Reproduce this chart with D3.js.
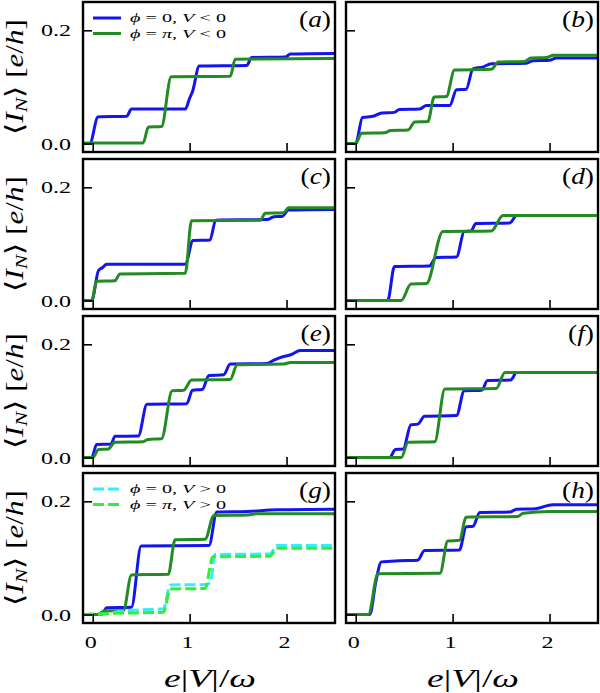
<!DOCTYPE html>
<html><head><meta charset="utf-8">
<script src="https://cdn.jsdelivr.net/npm/d3@7"></script>
<style>html,body{margin:0;padding:0;background:#fff;} svg{display:block;} text{white-space:pre;}</style>
</head><body>
<svg id="c" width="600" height="693"></svg>
<script>
// ---------- data (x = e|V|/ω, y = <I_N> [e/h]) ----------
const xTicks = [0, 1, 2];
const xTickLabels = ["0", "1", "2"];
const yTicks = [0.0, 0.2];
const yTickLabels = ["0.0", "0.2"];
const panelLabels = ["a", "b", "c", "d", "e", "f", "g", "h"];
const legendTop = ["ϕ = 0, V < 0", "ϕ = π, V < 0"];
const legendBottom = ["ϕ = 0, V > 0", "ϕ = π, V > 0"];

const A_blue = [[-0.1,0.0],[-0.03,0.0],[0.055,0.047],[0.35,0.048],[0.40,0.061],[0.955,0.061],[1.0,0.080],[1.03,0.092],[1.10,0.137],[1.59,0.138],[1.64,0.152],[1.99,0.153],[2.04,0.158],[2.5,0.159]];
const A_green = [[-0.1,0.001],[0.52,0.001],[0.575,0.029],[0.71,0.030],[0.81,0.118],[1.42,0.119],[1.47,0.149],[2.5,0.150]];
const B_blue = [[-0.1,0.0],[0.0,0.0],[0.07,0.046],[0.18,0.048],[0.27,0.054],[0.40,0.055],[0.45,0.060],[0.66,0.061],[0.73,0.067],[0.97,0.067],[1.04,0.095],[1.14,0.096],[1.21,0.132],[1.31,0.135],[1.40,0.141],[1.76,0.142],[1.83,0.146],[2.0,0.147],[2.07,0.151],[2.5,0.151]];
const B_green = [[-0.1,0.0],[0.0,0.0],[0.06,0.018],[0.30,0.019],[0.36,0.023],[0.54,0.024],[0.61,0.038],[0.745,0.039],[0.81,0.082],[0.935,0.083],[1.02,0.130],[1.40,0.131],[1.47,0.144],[1.74,0.145],[1.81,0.151],[1.97,0.152],[2.04,0.156],[2.5,0.156]];
const C_blue = [[-0.1,0.0],[-0.01,0.0],[0.06,0.053],[0.10,0.058],[0.145,0.064],[0.955,0.064],[1.035,0.106],[1.21,0.107],[1.27,0.142],[1.80,0.143],[1.87,0.148],[1.96,0.149],[2.02,0.160],[2.5,0.161]];
const C_green = [[-0.1,0.0],[-0.01,0.0],[0.04,0.034],[0.23,0.035],[0.28,0.047],[0.955,0.048],[1.02,0.141],[1.73,0.142],[1.78,0.154],[1.97,0.155],[2.02,0.164],[2.5,0.164]];
const D_blue = [[-0.1,0.0],[0.33,0.0],[0.40,0.060],[0.76,0.061],[0.83,0.076],[1.04,0.077],[1.12,0.122],[1.19,0.123],[1.24,0.136],[1.59,0.137],[1.66,0.150],[2.5,0.150]];
const D_green = [[-0.1,0.0],[0.47,0.0],[0.57,0.029],[0.73,0.030],[0.90,0.122],[1.40,0.123],[1.52,0.150],[2.5,0.150]];
const E_blue = [[-0.1,0.0],[-0.01,0.0],[0.04,0.023],[0.19,0.024],[0.23,0.0375],[0.47,0.038],[0.56,0.094],[0.97,0.095],[1.03,0.119],[1.13,0.120],[1.20,0.145],[1.35,0.146],[1.42,0.165],[1.80,0.166],[1.87,0.172],[1.94,0.177],[2.05,0.182],[2.14,0.189],[2.5,0.189]];
const E_green = [[-0.1,0.0],[0.0,0.0],[0.06,0.014],[0.16,0.015],[0.23,0.027],[0.52,0.028],[0.57,0.032],[0.71,0.033],[0.82,0.118],[0.94,0.119],[1.02,0.137],[1.42,0.138],[1.49,0.164],[1.97,0.165],[2.04,0.168],[2.5,0.168]];
const F_blue = [[-0.1,0.0],[0.35,0.0],[0.41,0.014],[0.49,0.015],[0.57,0.058],[0.64,0.059],[0.71,0.073],[1.04,0.074],[1.12,0.118],[1.30,0.119],[1.36,0.136],[1.60,0.137],[1.66,0.150],[2.5,0.150]];
const F_green = [[-0.1,0.0],[0.47,0.0],[0.54,0.027],[0.815,0.028],[0.92,0.121],[1.45,0.122],[1.54,0.150],[2.5,0.150]];
const G_blue = [[-0.1,0.0],[0.09,0.0],[0.145,0.012],[0.40,0.013],[0.50,0.121],[1.20,0.122],[1.28,0.181],[1.60,0.182],[1.90,0.185],[2.5,0.186]];
const G_green = [[-0.1,0.0],[0.05,0.0],[0.12,0.006],[0.317,0.007],[0.40,0.070],[0.78,0.071],[0.85,0.132],[1.16,0.133],[1.25,0.175],[1.60,0.176],[1.70,0.178],[2.5,0.178]];
const G_cyan = [[-0.1,0.0],[0.1,0.001],[0.3,0.006],[0.6,0.009],[0.73,0.010],[0.80,0.052],[1.18,0.053],[1.22,0.060],[1.26,0.106],[1.83,0.107],[1.90,0.122],[2.5,0.122]];
const G_lime = [[-0.1,0.0],[0.2,0.002],[0.73,0.004],[0.80,0.045],[1.16,0.046],[1.24,0.102],[1.83,0.103],[1.90,0.117],[2.5,0.117]];
const H_blue = [[-0.1,0.0],[0.145,0.0],[0.21,0.060],[0.265,0.093],[0.45,0.095],[0.64,0.096],[0.71,0.113],[1.07,0.114],[1.14,0.155],[1.21,0.156],[1.28,0.180],[1.59,0.181],[1.66,0.186],[1.86,0.187],[2.03,0.194],[2.5,0.194]];
const H_green = [[-0.1,0.0],[0.13,0.0],[0.23,0.072],[0.87,0.073],[0.95,0.130],[1.07,0.131],[1.14,0.172],[1.67,0.173],[1.73,0.179],[2.0,0.182],[2.5,0.182]];

// ---------- styling / layout ----------
const BLUE = "#1414f0", GREEN = "#238b23", CYAN = "#33eeff", LIME = "#33ee33";
const FONT = '"Liberation Serif","Times New Roman",serif';
const colX = [[83, 335], [346, 598]];
const rowTop = [2, 159, 316, 473];
const PH = 150;

const panelSeries = [
  [[A_blue, BLUE, null], [A_green, GREEN, null]],
  [[B_blue, BLUE, null], [B_green, GREEN, null]],
  [[C_blue, BLUE, null], [C_green, GREEN, null]],
  [[D_blue, BLUE, null], [D_green, GREEN, null]],
  [[E_blue, BLUE, null], [E_green, GREEN, null]],
  [[F_blue, BLUE, null], [F_green, GREEN, null]],
  [[G_blue, BLUE, null], [G_green, GREEN, null], [G_cyan, CYAN, "11,4"], [G_lime, LIME, "11,4"]],
  [[H_blue, BLUE, null], [H_green, GREEN, null]]
];

const svg = d3.select("#c");

function richText(g, str, size) {
  const t = g.append("text").attr("font-family", FONT).attr("font-size", size).attr("fill", "#000");
  for (const ch of str) {
    t.append("tspan").text(ch)
      .attr("font-style", /[A-Za-z\u0370-\u03FF]/.test(ch) ? "italic" : "normal");
  }
  return t;
}
function scaleFor(str, size, target) {
  const p = richText(svg, str, size);
  const w = p.node().getComputedTextLength();
  p.remove();
  return target / w;
}
const sxYTick = scaleFor("0.2", 17, 30);
const sxXTick = scaleFor("0", 16, 12);
const sxPanel = scaleFor("(a)", 23, 32);
const sxLeg = scaleFor(legendTop[0], 13, 96);
const sxXLab = scaleFor("e|V|/ω", 26, 92);

panelSeries.forEach((series, i) => {
  const col = i % 2, row = Math.floor(i / 2);
  const top = rowTop[row];
  const x = d3.scaleLinear().domain([-0.1, 2.5]).range(colX[col]);
  const y = d3.scaleLinear().domain([-0.015, 0.25]).range([top + PH, top]);
  const g = svg.append("g");
  const cid = "clip" + i;
  svg.append("clipPath").attr("id", cid).append("rect")
    .attr("x", colX[col][0]).attr("y", top).attr("width", colX[col][1] - colX[col][0]).attr("height", PH);

  const line = d3.line().x(d => x(d[0])).y(d => y(d[1])).curve(d3.curveMonotoneX);
  const lg = g.append("g").attr("clip-path", `url(#${cid})`);
  series.forEach(([data, color, dash]) => {
    lg.append("path").datum(data).attr("d", line)
      .attr("fill", "none").attr("stroke", color).attr("stroke-width", 3)
      .attr("stroke-linejoin", "round")
      .attr("stroke-dasharray", dash);
  });

  // axes (inward ticks)
  const ax = g.append("g").attr("transform", `translate(0,${top + PH})`)
    .call(d3.axisBottom(x).tickValues(xTicks).tickSize(-9).tickFormat(""));
  const ay = g.append("g").attr("transform", `translate(${colX[col][0]},0)`)
    .call(d3.axisLeft(y).tickValues(yTicks).tickSize(-9).tickFormat(""));
  [ax, ay].forEach(a => {
    a.select(".domain").remove();
    a.selectAll("line").attr("stroke", "#000").attr("stroke-width", 1.6);
  });

  // frame
  g.append("rect").attr("x", colX[col][0]).attr("y", top)
    .attr("width", colX[col][1] - colX[col][0]).attr("height", PH)
    .attr("fill", "none").attr("stroke", "#000").attr("stroke-width", 2.4);

  // y tick labels + y label (left column)
  if (col === 0) {
    yTicks.forEach((v, k) => {
      const t = richText(g, yTickLabels[k], 17).attr("text-anchor", "end").attr("y", 6);
      t.attr("transform", `translate(71,${y(v)}) scale(${sxYTick},1)`);
    });
    const yl = g.append("g").attr("transform", `translate(16,${top + 75}) rotate(-90)`);
    const fs = 21;
    const t = yl.append("text").attr("font-family", FONT).attr("font-size", fs)
      .attr("text-anchor", "middle").attr("y", 0.27 * fs);
    t.append("tspan").text("\u27E8");
    t.append("tspan").text("I").attr("font-style", "italic");
    t.append("tspan").text("N").attr("font-style", "italic").attr("font-size", fs * 0.7).attr("dy", 4);
    t.append("tspan").text("\u27E9").attr("dy", -4);
    t.append("tspan").text(" [");
    t.append("tspan").text("e").attr("font-style", "italic");
    t.append("tspan").text("/");
    t.append("tspan").text("h").attr("font-style", "italic");
    t.append("tspan").text("]");
    const w = t.node().getComputedTextLength();
    t.attr("transform", `scale(${115 / w},1.18)`);
  }

  // x tick labels + x label (bottom row)
  if (row === 3) {
    xTicks.forEach((v, k) => {
      const t = richText(g, xTickLabels[k], 16).attr("text-anchor", "middle");
      t.attr("transform", `translate(${x(v) - 2},648) scale(${sxXTick},1)`);
    });
    const cx = (colX[col][0] + colX[col][1]) / 2;
    const t = richText(g, "e|V|/ω", 26).attr("text-anchor", "middle");
    t.attr("transform", `translate(${cx + 1},687) scale(${sxXLab},1)`);
  }

  // panel label
  const pl = richText(g, "(" + panelLabels[i] + ")", 23).attr("text-anchor", "end");
  pl.attr("transform", `translate(${colX[col][1] - 4},${top + 25}) scale(${sxPanel},1)`);

  // legends
  let leg = null;
  if (i === 0) leg = [[legendTop[0], BLUE, null], [legendTop[1], GREEN, null]];
  if (i === 6) leg = [[legendBottom[0], CYAN, "11,4"], [legendBottom[1], LIME, "11,4"]];
  if (leg) {
    leg.forEach(([lab, color, dash], k) => {
      const ly = top + 16 + k * 15.5;
      g.append("line").attr("x1", colX[col][0] + 10).attr("x2", colX[col][0] + 38)
        .attr("y1", ly).attr("y2", ly).attr("stroke", color).attr("stroke-width", 3)
        .attr("stroke-dasharray", dash);
      const t = richText(g, lab, 13);
      t.attr("transform", `translate(${colX[col][0] + 47},${ly + 4}) scale(${sxLeg},1)`);
    });
  }
});
</script>
</body></html>
